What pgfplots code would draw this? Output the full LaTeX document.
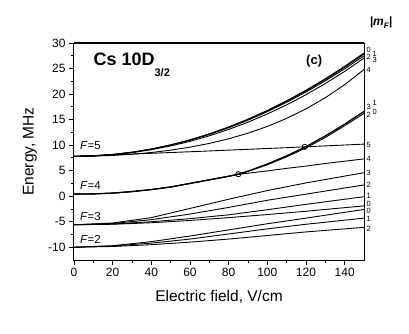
\documentclass[border=0pt]{standalone}
\usepackage{fontspec}
\setmainfont{Liberation Sans}
\usepackage{pgfplots}
\pgfplotsset{compat=1.18}

% F=5 levels (|mF| = 0..5)
\pgfplotstableread{
x    m0    m1    m2    m3    m4    m5
0    7.80  7.80  7.80  7.80  7.80  7.80
10   7.89  7.89  7.89  7.88  7.85  7.95
20   8.16  8.16  8.15  8.12  7.98  8.10
30   8.61  8.60  8.59  8.53  8.22  8.25
40   9.24  9.22  9.20  9.10  8.55  8.40
50   10.05 10.03 9.99  9.84  9.01  8.55
60   11.04 11.00 10.95 10.74 9.60  8.70
70   12.21 12.16 12.09 11.82 10.33 8.86
80   13.56 13.50 13.40 13.07 11.24 9.02
90   15.09 15.01 14.89 14.49 12.34 9.18
100  16.80 16.70 16.55 16.10 13.66 9.34
110  18.69 18.57 18.39 17.89 15.24 9.50
120  20.76 20.62 20.40 19.88 17.10 9.68
130  23.01 22.84 22.59 22.06 19.29 9.85
140  25.44 25.24 24.95 24.44 21.84 10.02
150  28.05 27.83 27.49 27.04 24.81 10.20
}\Ffive

% F=4 levels
\pgfplotstableread{
x    a     b     m4
0    0.40  0.40  0.40
10   0.45  0.45  0.45
20   0.60  0.60  0.60
30   0.90  0.90  0.90
40   1.30  1.30  1.30
50   1.80  1.80  1.80
60   2.50  2.50  2.50
70   3.20  3.20  3.20
80   3.90  3.90  3.90
85   4.30  4.30  4.30
90   4.90  4.85  4.50
100  6.30  6.15  4.95
110  7.90  7.70  5.45
120  9.70  9.45  5.90
130  11.80 11.50 6.40
140  14.10 13.80 6.85
150  16.60 16.20 7.30
}\Ffour

% F=3 and F=2 levels
\pgfplotstableread{
x    a3    a2    a1    a0    b0    b1    b2
0    -5.60 -5.60 -5.60 -5.60 -10.0 -10.0  -10.0
20   -5.25 -5.35 -5.45 -5.50 -9.70 -9.75  -9.85
40   -4.20 -4.60 -5.00 -5.20 -8.90 -9.20  -9.50
60   -2.40 -3.50 -4.40 -4.75 -7.80 -8.40  -9.00
80   -0.60 -2.20 -3.65 -4.20 -6.60 -7.40  -8.40
100  1.10  -0.80 -2.65 -3.60 -5.40 -6.40  -7.70
120  2.60  0.40  -1.60 -2.95 -4.30 -5.50  -7.00
150  4.60  2.20  -0.10 -1.90 -2.60 -4.30  -6.10
}\Flow

\begin{document}
\begin{tikzpicture}
\path[use as bounding box] (-74pt,-73pt) rectangle (335pt,260pt);
\begin{axis}[
  scale only axis, width=290pt, height=217pt,
  xmin=0, xmax=150, ymin=-12.5, ymax=30,
  xtick={0,20,...,140}, minor x tick num=1,
  ytick={-10,-5,...,30}, minor y tick num=1,
  tick pos=left, tick align=outside,
  major tick length=5pt, minor tick length=3pt,
  axis line style={line width=1pt},
  every tick/.style={black, line width=0.8pt},
  tick label style={font=\fontsize{12}{14}\selectfont},
  /pgf/number format/assume math mode=true,
  xlabel={Electric field, V/cm},
  ylabel={Energy, MHz},
  label style={font=\fontsize{15.5}{18}\selectfont},
  xlabel style={at={(axis description cs:0.5,-0.17)}, anchor=center},
  ylabel style={at={(axis description cs:-0.152,0.5)}, anchor=center},
  clip=false,
  cycle list={{black,solid,mark=none}},
  every axis plot/.append style={line width=0.9pt},
]
\draw[line width=2pt] (rel axis cs:0,1) -- (rel axis cs:1,1);

\addplot table[x=x,y=m0] {\Ffive};
\addplot table[x=x,y=m1] {\Ffive};
\addplot table[x=x,y=m2] {\Ffive};
\addplot table[x=x,y=m3] {\Ffive};
\addplot table[x=x,y=m4] {\Ffive};
\addplot table[x=x,y=m5] {\Ffive};

\addplot[black, line width=1.3pt] table[x=x,y=a] {\Ffour};
\addplot table[x=x,y=b] {\Ffour};
\addplot table[x=x,y=m4] {\Ffour};

\addplot table[x=x,y=a3] {\Flow};
\addplot table[x=x,y=a2] {\Flow};
\addplot table[x=x,y=a1] {\Flow};
\addplot table[x=x,y=a0] {\Flow};
\addplot table[x=x,y=b0] {\Flow};
\addplot table[x=x,y=b1] {\Flow};
\addplot table[x=x,y=b2] {\Flow};

\addplot[black, only marks, mark=o, mark size=2.6pt,
  mark options={solid, fill=white, line width=0.8pt}]
  coordinates {(85,4.3) (119.4,9.67)};

% titles
\node[anchor=base west, font=\fontsize{18}{20}\selectfont\bfseries]
  at (axis cs:8.3,25.5) {Cs 10D\raisebox{-11pt}{\fontsize{11}{12}\selectfont 3/2}};
\node[anchor=base west, font=\fontsize{13}{15}\selectfont\bfseries]
  at (axis cs:118.3,25.75) {(c)};
\node[anchor=base west, font=\fontsize{12}{14}\selectfont\bfseries\itshape]
  at (axis cs:151.2,33.5) {|m\raisebox{-3pt}{\fontsize{8}{9}\selectfont F}|};

% F labels
\begin{scope}[every node/.style={anchor=west, font=\fontsize{11.5}{13}\selectfont, inner sep=0pt}]
\node at (axis cs:3,9.9) {\textit{F}=5};
\node at (axis cs:3,2.0) {\textit{F}=4};
\node at (axis cs:3,-3.9) {\textit{F}=3};
\node at (axis cs:3,-8.4) {\textit{F}=2};
\end{scope}

% |mF| labels at right
\begin{scope}[every node/.style={anchor=west, font=\fontsize{7.5}{8}\selectfont, inner sep=0pt}]
\node at (axis cs:151.3,28.69) {0};
\node at (axis cs:151.3,27.31) {2};
\node at (axis cs:154.3,27.9) {1};
\node at (axis cs:154.3,26.7) {3};
\node at (axis cs:151.3,24.76) {4};
\node at (axis cs:151.3,17.51) {3};
\node at (axis cs:151.3,15.94) {2};
\node at (axis cs:154.3,18.3) {1};
\node at (axis cs:154.3,16.6) {0};
\node at (axis cs:151.3,10.06) {5};
\node at (axis cs:151.3,7.25) {4};
\node at (axis cs:151.3,4.51) {3};
\node at (axis cs:151.3,2.22) {2};
\node at (axis cs:151.3,0.06) {1};
\node at (axis cs:151.3,-1.51) {0};
\node at (axis cs:151.3,-2.88) {0};
\node at (axis cs:151.3,-4.51) {1};
\node at (axis cs:151.3,-6.41) {2};
\end{scope}
\end{axis}
\end{tikzpicture}
\end{document}
